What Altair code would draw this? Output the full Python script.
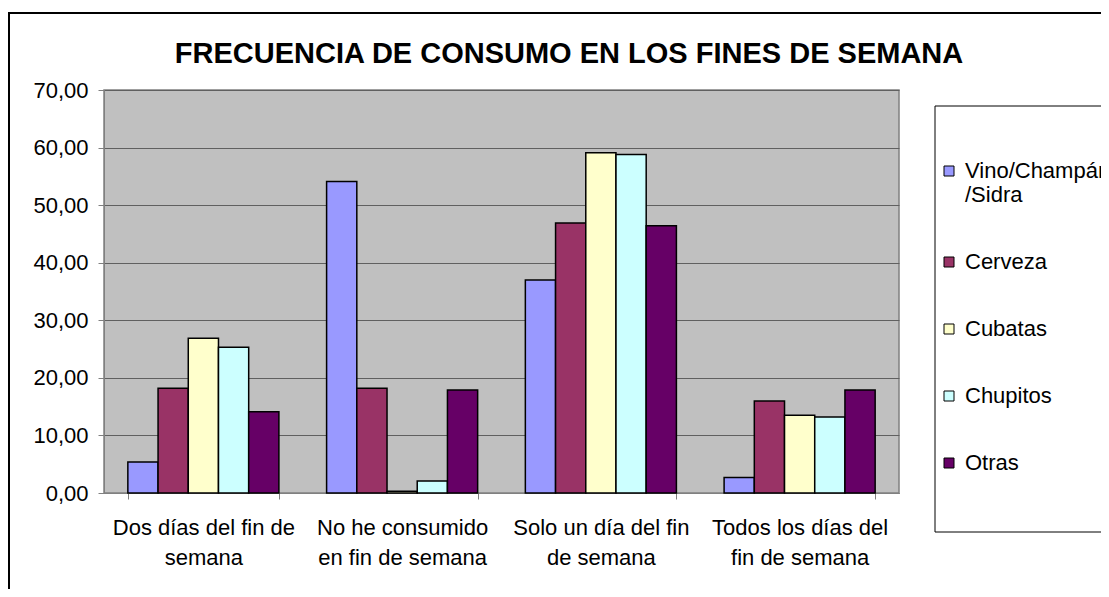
import altair as alt
import pandas as pd

title_text = "FRECUENCIA DE CONSUMO EN LOS FINES DE SEMANA"
categories = [
    "Dos días del fin de semana",
    "No he consumido en fin de semana",
    "Solo un día del fin de semana",
    "Todos los días del fin de semana",
]
category_lines = [
    ["Dos días del fin de", "semana"],
    ["No he consumido", "en fin de semana"],
    ["Solo un día del fin", "de semana"],
    ["Todos los días del", "fin de semana"],
]
series = ["Vino/Champán/Sidra", "Cerveza", "Cubatas", "Chupitos", "Otras"]
colors = ["#9999FF", "#993366", "#FFFFCC", "#CCFFFF", "#660066"]

vino = [5.4, 54.1, 37.0, 2.7]
cerveza = [18.2, 18.2, 46.9, 16.0]
cubatas = [26.9, 0.3, 59.1, 13.5]
chupitos = [25.3, 2.1, 58.8, 13.2]
otras = [14.1, 17.9, 46.4, 17.9]

values = [vino, cerveza, cubatas, chupitos, otras]
rows = []
for s, vals in zip(series, values):
    for c, v in zip(categories, vals):
        rows.append({"categoria": c, "serie": s, "valor": v})
df = pd.DataFrame(rows)

FONT = "Liberation Sans"

x_label_expr = " : ".join(
    f"datum.value == '{c}' ? {lines!r}" for c, lines in zip(categories, category_lines)
) + " : datum.label"

legend_label_expr = "datum.label == 'Vino/Champán/Sidra' ? ['Vino/Champán', '/Sidra'] : datum.label"

bars = alt.Chart(df).mark_bar(stroke="black", strokeWidth=1.5).encode(
    x=alt.X(
        "categoria:N",
        sort=categories,
        title=None,
        scale=alt.Scale(paddingInner=0.24, paddingOuter=0.12),
        axis=alt.Axis(
            labelAngle=0,
            labelExpr=x_label_expr,
            labelFont=FONT,
            labelFontSize=22,
            labelColor="black",
            labelLineHeight=30,
            labelPadding=18,
            labelBaseline="top",
            labelLimit=400,
            tickBand="extent",
            tickSize=6,
            tickColor="#808080",
            domainColor="#808080",
            grid=False,
        ),
    ),
    xOffset=alt.XOffset("serie:N", sort=series, scale=alt.Scale(paddingInner=0, paddingOuter=0)),
    y=alt.Y(
        "valor:Q",
        title=None,
        scale=alt.Scale(domain=[0, 70], nice=False),
        axis=alt.Axis(
            values=[0, 10, 20, 30, 40, 50, 60, 70],
            labelExpr="replace(format(datum.value, '.2f'), '.', ',')",
            labelFont=FONT,
            labelFontSize=22,
            labelColor="black",
            labelPadding=10,
            tickSize=6,
            tickColor="#808080",
            domainColor="#808080",
            gridColor="#606060",
            gridWidth=1,
        ),
    ),
    color=alt.Color(
        "serie:N",
        sort=series,
        scale=alt.Scale(domain=series, range=colors),
        legend=alt.Legend(
            title=None,
            orient="none",
            legendX=834,
            legendY=70,
            symbolType="square",
            symbolSize=100,
            symbolStrokeColor="black",
            symbolStrokeWidth=1,
            labelFont=FONT,
            labelFontSize=22,
            labelColor="black",
            labelOffset=5,
            labelExpr=legend_label_expr,
            labelLimit=300,
            rowPadding=45,
            padding=0,
        ),
    ),
)

frame_df = pd.DataFrame({"k": [0]})
legend_box = alt.Chart(frame_df).mark_rect(fill="white", stroke="black", strokeWidth=1).encode(
    x=alt.value(831), x2=alt.value(1010), y=alt.value(16), y2=alt.value(442)
)
left_border = alt.Chart(frame_df).mark_rule(color="black", strokeWidth=2).encode(
    x=alt.value(-95), y=alt.value(-78), y2=alt.value(600)
)
top_border = alt.Chart(frame_df).mark_rule(color="black", strokeWidth=2).encode(
    x=alt.value(-96), x2=alt.value(1100), y=alt.value(-77)
)
title_mark = alt.Chart(frame_df).mark_text(
    text=title_text,
    font=FONT,
    fontSize=29,
    fontWeight="bold",
    color="black",
    align="center",
    baseline="alphabetic",
).encode(x=alt.value(465), y=alt.value(-27))

chart = alt.layer(legend_box, bars, left_border, top_border, title_mark).properties(
    width=795,
    height=403,
    background="white",
    autosize=alt.AutoSizeParams(type="none"),
    padding={"left": 96, "top": 82, "right": 202, "bottom": 96},
).configure_view(
    fill="#C0C0C0", stroke="#808080", strokeWidth=1.5
)

chart.save("out.html", embed_options={"renderer": "svg", "actions": False})
